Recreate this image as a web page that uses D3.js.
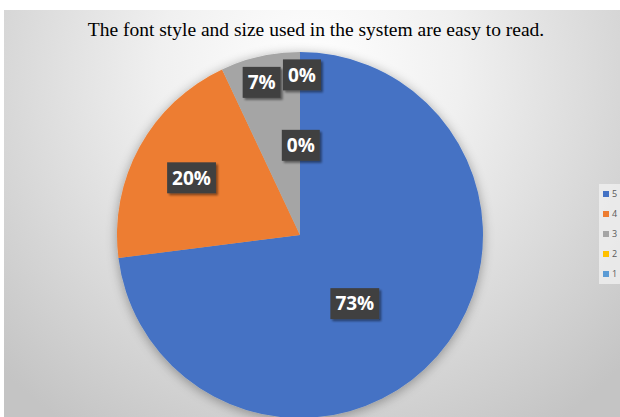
<!DOCTYPE html>
<html>
<head>
<meta charset="utf-8">
<script src="https://cdn.jsdelivr.net/npm/d3@7/dist/d3.min.js"></script>
<style>
  html, body { margin: 0; padding: 0; background: #ffffff; }
  svg { display: block; }
</style>
</head>
<body>
<script>
// Survey responses for "The font style and size used in the system are easy to read."
const categories = ["5", "4", "3", "2", "1"];
const percentValues = [73, 20, 7, 0, 0];
const sliceColors = ["#4472C4", "#ED7D31", "#A5A5A5", "#FFC000", "#5B9BD5"];
const chartTitle = "The font style and size used in the system are easy to read.";

const W = 620, H = 417;
const svg = d3.select("body").append("svg").attr("width", W).attr("height", H);
const defs = svg.append("defs");

// chart area background: soft radial gradient, bright near the top centre
const bg = defs.append("radialGradient").attr("id", "bgGrad")
  .attr("gradientUnits", "userSpaceOnUse")
  .attr("cx", 310).attr("cy", 70).attr("r", 430);
bg.append("stop").attr("offset", "0%").attr("stop-color", "#ffffff");
bg.append("stop").attr("offset", "35%").attr("stop-color", "#f0f0f0");
bg.append("stop").attr("offset", "100%").attr("stop-color", "#c4c4c4");

const shadow = defs.append("filter").attr("id", "pieShadow")
  .attr("x", "-20%").attr("y", "-20%").attr("width", "140%").attr("height", "140%");
shadow.append("feGaussianBlur").attr("in", "SourceAlpha").attr("stdDeviation", 6).attr("result", "b");
shadow.append("feOffset").attr("in", "b").attr("dx", 0).attr("dy", 2).attr("result", "o");
shadow.append("feComponentTransfer").attr("in", "o").attr("result", "s")
  .append("feFuncA").attr("type", "linear").attr("slope", 0.35);
const sm = shadow.append("feMerge");
sm.append("feMergeNode").attr("in", "s");
sm.append("feMergeNode").attr("in", "SourceGraphic");

const boxShadow = defs.append("filter").attr("id", "boxShadow")
  .attr("x", "-30%").attr("y", "-30%").attr("width", "160%").attr("height", "160%");
boxShadow.append("feGaussianBlur").attr("in", "SourceAlpha").attr("stdDeviation", 1.2).attr("result", "b");
boxShadow.append("feOffset").attr("in", "b").attr("dx", 2).attr("dy", 2).attr("result", "o");
boxShadow.append("feComponentTransfer").attr("in", "o").attr("result", "s")
  .append("feFuncA").attr("type", "linear").attr("slope", 0.45);
const bm = boxShadow.append("feMerge");
bm.append("feMergeNode").attr("in", "s");
bm.append("feMergeNode").attr("in", "SourceGraphic");

svg.append("rect").attr("x", 4).attr("y", 10).attr("width", W - 4).attr("height", H - 10)
  .attr("fill", "url(#bgGrad)");

// title
svg.append("text")
  .attr("x", 316).attr("y", 36)
  .attr("text-anchor", "middle")
  .attr("font-family", "'Liberation Serif', 'Times New Roman', serif")
  .attr("font-size", 19.5)
  .attr("fill", "#000")
  .text(chartTitle);

// pie
const cx = 300, cy = 235, radius = 183;
const data = categories.map((c, i) => ({ cat: c, value: percentValues[i], color: sliceColors[i] }));
const pie = d3.pie().value(d => d.value).sort(null);
const arcs = pie(data);
const arc = d3.arc().innerRadius(0).outerRadius(radius);

const g = svg.append("g").attr("transform", `translate(${cx},${cy})`);
g.append("g").attr("filter", "url(#pieShadow)")
  .selectAll("path").data(arcs).join("path")
  .attr("d", arc)
  .attr("fill", d => d.data.color);

// data labels: radial distance (fraction of radius) and angular nudge per slice
const labelPlacement = [
  { rf: 0.48, shift: 10 },
  { rf: 0.67, shift: -1 },
  { rf: 0.86, shift: -1.5 },
  { rf: 0.875, shift: 0.7 },
  { rf: 0.49, shift: 0.5 }
];
const fmt = v => Math.round(v) + "%";
arcs.forEach((a, i) => {
  const p = labelPlacement[i];
  const ang = (a.startAngle + a.endAngle) / 2 + p.shift * Math.PI / 180;
  const r = radius * p.rf;
  const x = r * Math.sin(ang), y = -r * Math.cos(ang);
  const txt = fmt(a.data.value);
  const lg = g.append("g").attr("transform", `translate(${x},${y})`);
  const t = lg.append("text")
    .attr("text-anchor", "middle")
    .attr("dy", "0.36em")
    .attr("font-family", "'Open Sans', 'DejaVu Sans', sans-serif")
    .attr("font-weight", "bold")
    .attr("font-size", 19)
    .attr("fill", "#ffffff")
    .text(txt);
  const bw = t.node().getComputedTextLength() + 10;
  lg.insert("rect", "text")
    .attr("x", -bw / 2).attr("y", -15.5)
    .attr("width", bw).attr("height", 31)
    .attr("fill", "#404040")
    .attr("filter", "url(#boxShadow)");
});

// legend
const lg = svg.append("g").attr("transform", "translate(599,184)");
lg.append("rect").attr("x", 0).attr("y", 0).attr("width", 21).attr("height", 100)
  .attr("fill", "#f2f2f2").attr("opacity", 0.75);
categories.forEach((c, i) => {
  const y = 10 + i * 20;
  lg.append("rect").attr("x", 4).attr("y", y - 3).attr("width", 6).attr("height", 6)
    .attr("fill", sliceColors[i]);
  lg.append("text").attr("x", 13).attr("y", y).attr("dy", "0.35em")
    .attr("font-family", "'Open Sans', 'DejaVu Sans', sans-serif")
    .attr("font-size", 9).attr("fill", "#595959")
    .text(c);
});
</script>
</body>
</html>
